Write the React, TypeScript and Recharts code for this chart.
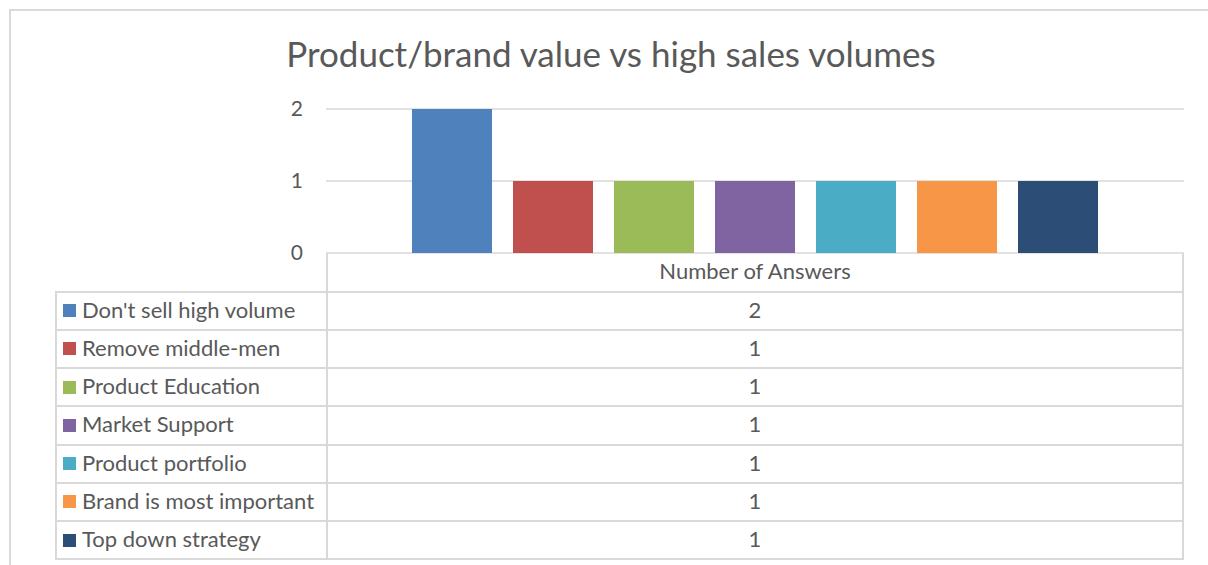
import { BarChart, Bar, XAxis, YAxis, CartesianGrid } from 'recharts'

const categories = ['Number of Answers']
const seriesNames = [
  "Don't sell high volume",
  'Remove middle-men',
  'Product Education',
  'Market Support',
  'Product portfolio',
  'Brand is most important',
  'Top down strategy',
]
const seriesValues = [2, 1, 1, 1, 1, 1, 1]
const seriesColors = ['#4F81BD', '#C0504D', '#9BBB59', '#8064A2', '#4BACC6', '#F79646', '#2C4D75']
const yTicks = [0, 1, 2]

const data = categories.map((c) => {
  const row: Record<string, string | number> = { category: c }
  seriesNames.forEach((n, i) => { row[n] = seriesValues[i] })
  return row
})

const font = 'Lato, "Open Sans", sans-serif'
const textColor = '#595959'
const lineColor = '#d9d9d9'

const rowTop = 290.5
const rowH = 38.25

export default function App() {
  return (
    <div style={{ position: 'fixed', left: 0, top: 0, width: 1208, height: 565, overflow: 'hidden', background: '#fff', fontFamily: font }}>
      {/* outer chart frame */}
      <div style={{ position: 'absolute', left: 9, top: 9, width: 1220, height: 600, border: `2px solid ${lineColor}` }} />

      <div style={{ position: 'absolute', left: 9, width: 1204, top: 32, textAlign: 'center', fontSize: 35, color: textColor, lineHeight: '42px' }}>
        Product/brand value vs high sales volumes
      </div>

      <div style={{ position: 'absolute', left: 0, top: 0 }}>
        <BarChart
          width={1208}
          height={275}
          data={data}
          margin={{ top: 109, right: 24, left: 286, bottom: 22 }}
          barSize={80}
          barGap={21}
        >
          <CartesianGrid vertical={false} stroke={lineColor} strokeWidth={1.5} />
          <XAxis dataKey="category" hide />
          <YAxis
            width={40}
            domain={[0, 2]}
            ticks={yTicks}
            interval={0}
            axisLine={false}
            tickLine={false}
            tickSize={0}
            tickMargin={23}
            tick={{ fontSize: 21, fill: textColor, fontFamily: font }}
          />
          {seriesNames.map((n, i) => (
            <Bar key={n} dataKey={n} fill={seriesColors[i]} isAnimationActive={false} />
          ))}
        </BarChart>
      </div>

      {/* data table */}
      <div style={{ position: 'absolute', left: 326, top: 253, width: 858, height: rowTop - 253, borderLeft: `2px solid ${lineColor}`, borderRight: `2px solid ${lineColor}`, boxSizing: 'border-box', display: 'flex', alignItems: 'center', justifyContent: 'center', fontSize: 22, color: textColor, paddingBottom: 2 }}>
        {categories[0]}
      </div>
      {seriesNames.map((n, i) => (
        <div key={n}>
          <div style={{ position: 'absolute', left: 55, top: rowTop + i * rowH, width: 271, height: rowH + 2, border: `2px solid ${lineColor}`, borderRight: 'none', boxSizing: 'border-box', display: 'flex', alignItems: 'center', fontSize: 22, color: textColor, paddingBottom: 3 }}>
            <span style={{ display: 'inline-block', width: 13, height: 13, background: seriesColors[i], marginLeft: 6, marginRight: 6, marginTop: 3 }} />
            <span style={{ whiteSpace: 'nowrap' }}>{n}</span>
          </div>
          <div style={{ position: 'absolute', left: 326, top: rowTop + i * rowH, width: 858, height: rowH + 2, border: `2px solid ${lineColor}`, boxSizing: 'border-box', display: 'flex', alignItems: 'center', justifyContent: 'center', fontSize: 22, color: textColor, paddingBottom: 3 }}>
            {seriesValues[i]}
          </div>
        </div>
      ))}
    </div>
  )
}
